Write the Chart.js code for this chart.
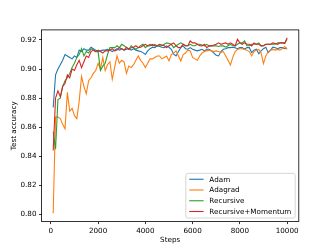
<!DOCTYPE html>
<html>
<head>
<meta charset="utf-8">
<script src="https://cdn.jsdelivr.net/npm/chart.js@4/dist/chart.umd.min.js"></script>
<style>
html,body{margin:0;padding:0;background:#fff;}
#wrap{width:332px;height:249px;}
</style>
</head>
<body>
<div id="wrap"><canvas id="c" width="332" height="249"></canvas></div>
<script>
const steps = [100,200,300,400,500,600,700,800,900,1000,1100,1200,1300,1400,1500,1600,1700,1800,1900,2000,
2100,2200,2300,2400,2500,2600,2700,2800,2900,3000,3100,3200,3300,3400,3500,3600,3700,3800,3900,4000,
4100,4200,4300,4400,4500,4600,4700,4800,4900,5000,5100,5200,5300,5400,5500,5600,5700,5800,5900,6000,
6100,6200,6300,6400,6500,6600,6700,6800,6900,7000,7100,7200,7300,7400,7500,7600,7700,7800,7900,8000,
8100,8200,8300,8400,8500,8600,8700,8800,8900,9000,9100,9200,9300,9400,9500,9600,9700,9800,9900,10000];

const adam = [0.8736,0.896,0.900,0.903,0.906,0.910,0.909,0.908,0.907,0.909,
0.908,0.913,0.912,0.914,0.913,0.913,0.915,0.914,0.913,0.912,
0.9125,0.913,0.913,0.9136,0.913,0.912,0.913,0.914,0.913,0.914,
0.913,0.9136,0.914,0.913,0.914,0.913,0.9125,0.912,0.9113,0.910,
0.9125,0.914,0.915,0.9147,0.916,0.9155,0.915,0.9147,0.9159,0.915,
0.9136,0.9102,0.909,0.912,0.9147,0.9159,0.914,0.9136,0.9147,0.9136,
0.913,0.9125,0.913,0.9136,0.9125,0.9136,0.9136,0.9125,0.911,0.9095,
0.909,0.912,0.9136,0.914,0.9147,0.9147,0.915,0.9147,0.914,0.9147,
0.9147,0.9136,0.9147,0.9147,0.9113,0.913,0.9136,0.9105,0.9125,0.914,
0.915,0.9113,0.913,0.915,0.9147,0.914,0.9147,0.9147,0.914,0.9145];

const adagrad = [0.801,0.867,0.867,0.866,0.862,0.859,0.884,0.871,0.873,0.868,
0.866,0.878,0.895,0.888,0.883,0.892,0.894,0.897,0.899,0.904,
0.900,0.908,0.899,0.903,0.905,0.893,0.901,0.909,0.904,0.906,
0.905,0.897,0.902,0.901,0.903,0.906,0.909,0.906,0.904,0.901,
0.904,0.907,0.907,0.908,0.909,0.909,0.907,0.908,0.909,0.9056,
0.910,0.911,0.9125,0.909,0.9055,0.910,0.911,0.913,0.9125,0.908,
0.907,0.906,0.909,0.911,0.912,0.9125,0.913,0.9125,0.912,0.9125,
0.912,0.9115,0.912,0.909,0.906,0.9028,0.908,0.912,0.9135,0.914,
0.914,0.9135,0.913,0.912,0.909,0.912,0.913,0.9135,0.911,0.9037,
0.909,0.912,0.913,0.9135,0.913,0.9135,0.913,0.914,0.9155,0.9135];

const recursive = [0.857,0.845,0.879,0.880,0.888,0.892,0.894,0.897,0.901,0.904,
0.908,0.910,0.914,0.909,0.912,0.911,0.914,0.913,0.912,0.912,
0.899,0.902,0.904,0.910,0.9147,0.9147,0.9147,0.916,0.9147,0.917,
0.916,0.9147,0.9136,0.916,0.9147,0.9136,0.9147,0.916,0.917,0.9147,
0.916,0.917,0.916,0.917,0.9159,0.9159,0.916,0.917,0.918,0.9175,
0.917,0.9147,0.916,0.917,0.918,0.917,0.916,0.916,0.917,0.916,
0.916,0.917,0.917,0.9165,0.9159,0.917,0.9159,0.916,0.9159,0.916,
0.9155,0.916,0.9159,0.915,0.916,0.917,0.916,0.9159,0.917,0.918,
0.918,0.9193,0.916,0.916,0.917,0.917,0.917,0.918,0.9159,0.916,
0.917,0.917,0.917,0.917,0.917,0.918,0.918,0.918,0.918,0.9205];

const recursiveMomentum = [0.844,0.880,0.885,0.881,0.888,0.890,0.896,0.894,0.900,0.899,
0.903,0.906,0.901,0.905,0.909,0.908,0.912,0.913,0.912,0.913,
0.912,0.911,0.9125,0.9125,0.913,0.914,0.9125,0.913,0.9147,0.914,
0.913,0.915,0.9136,0.9147,0.915,0.916,0.9147,0.915,0.916,0.917,
0.9159,0.916,0.917,0.9159,0.916,0.917,0.9165,0.916,0.9147,0.916,
0.917,0.918,0.916,0.9147,0.915,0.917,0.916,0.916,0.9193,0.918,
0.918,0.917,0.916,0.9159,0.917,0.9147,0.9159,0.9159,0.9165,0.917,
0.918,0.917,0.9175,0.918,0.917,0.918,0.917,0.9159,0.9205,0.918,
0.917,0.918,0.917,0.917,0.9159,0.918,0.917,0.917,0.9159,0.916,
0.917,0.917,0.917,0.918,0.9175,0.917,0.918,0.918,0.9175,0.9215];

const seriesLabels = ['Adam','Adagrad','Recursive','Recursive+Momentum'];
const seriesColors = ['#1f77b4','#ff7f0e','#2ca02c','#d62728'];
const xTicks = [0,2000,4000,6000,8000,10000];
const yTicks = [0.80,0.82,0.84,0.86,0.88,0.90,0.92];
const xTitle = 'Steps';
const yTitle = 'Test accuracy';

const FONT = {family: 'DejaVu Sans', size: 7.2};
const allSeries = [adam, adagrad, recursive, recursiveMomentum];

const datasets = allSeries.map((s, k) => ({
  label: seriesLabels[k],
  data: s.map((v, i) => ({x: steps[i], y: v})),
  borderColor: seriesColors[k],
  backgroundColor: seriesColors[k],
  borderWidth: 1.1,
  pointRadius: 0,
  tension: 0,
  fill: false,
  order: allSeries.length - k
}));

const framePlugin = {
  id: 'frame',
  afterDatasetsDraw(chart) {
    const {ctx, chartArea: a} = chart;
    ctx.save();
    ctx.strokeStyle = '#000';
    ctx.lineWidth = 0.8;
    ctx.strokeRect(a.left, a.top, a.right - a.left, a.bottom - a.top);
    ctx.restore();
  }
};

const legendPlugin = {
  id: 'mplLegend',
  afterDraw(chart) {
    const {ctx, chartArea: a} = chart;
    const fs = FONT.size;
    ctx.save();
    ctx.font = fs + 'px "DejaVu Sans"';
    const ds = chart.data.datasets;
    let tw = 0;
    ds.forEach(d => { tw = Math.max(tw, ctx.measureText(d.label).width); });
    const borderPad = 0.4 * fs, handleLen = 2.0 * fs, handlePad = 0.8 * fs;
    const rowH = 10.75, topPad = 5.9;
    const w = borderPad + handleLen + handlePad + tw + borderPad + 1.5;
    const h = topPad * 2 + rowH * (ds.length - 1) + 0.6;
    const right = a.right - 0.5 * fs;
    const bottom = a.bottom - 0.5 * fs;
    const left = right - w, top = bottom - h;
    const r = 2;
    ctx.beginPath();
    ctx.moveTo(left + r, top);
    ctx.lineTo(right - r, top);
    ctx.quadraticCurveTo(right, top, right, top + r);
    ctx.lineTo(right, bottom - r);
    ctx.quadraticCurveTo(right, bottom, right - r, bottom);
    ctx.lineTo(left + r, bottom);
    ctx.quadraticCurveTo(left, bottom, left, bottom - r);
    ctx.lineTo(left, top + r);
    ctx.quadraticCurveTo(left, top, left + r, top);
    ctx.closePath();
    ctx.fillStyle = 'rgba(255,255,255,0.8)';
    ctx.fill();
    ctx.strokeStyle = '#cccccc';
    ctx.lineWidth = 0.8;
    ctx.stroke();
    ds.forEach((d, k) => {
      const cy = top + topPad + k * rowH;
      ctx.strokeStyle = d.borderColor;
      ctx.lineWidth = 1.1;
      ctx.beginPath();
      ctx.moveTo(left + borderPad + 0.5, cy);
      ctx.lineTo(left + borderPad + 0.5 + handleLen, cy);
      ctx.stroke();
      ctx.fillStyle = '#000';
      ctx.textBaseline = 'middle';
      ctx.textAlign = 'left';
      ctx.fillText(d.label, left + borderPad + 0.5 + handleLen + handlePad, cy + 0.5);
    });
    ctx.restore();
  }
};

new Chart(document.getElementById('c'), {
  type: 'line',
  data: {datasets},
  options: {
    responsive: false,
    animation: false,
    devicePixelRatio: 1,
    layout: {padding: {left: 0, top: 29.9, right: 33.2, bottom: 0}},
    plugins: {legend: {display: false}, tooltip: {enabled: false}},
    scales: {
      x: {
        type: 'linear',
        min: -395,
        max: 10495,
        afterBuildTicks: axis => { axis.ticks = xTicks.map(v => ({value: v})); },
        afterFit: axis => { axis.height = 27.4; },
        ticks: {
          autoSkip: false,
          maxRotation: 0,
          padding: 2.5,
          color: '#000',
          font: FONT,
          callback: v => String(v)
        },
        grid: {drawOnChartArea: false, drawTicks: true, tickLength: 2.5, color: '#000', lineWidth: 0.8},
        border: {display: false},
        title: {display: true, text: xTitle, color: '#000', font: FONT, padding: {top: 0, bottom: 4.7}}
      },
      y: {
        type: 'linear',
        min: 0.7952,
        max: 0.9269,
        afterBuildTicks: axis => { axis.ticks = yTicks.map(v => ({value: v})); },
        afterFit: axis => { axis.width = 41.5; },
        ticks: {
          autoSkip: false,
          padding: 2.5,
          color: '#000',
          font: FONT,
          callback: v => Number(v).toFixed(2)
        },
        grid: {drawOnChartArea: false, drawTicks: true, tickLength: 2.5, color: '#000', lineWidth: 0.8},
        border: {display: false},
        title: {display: true, text: yTitle, color: '#000', font: FONT, padding: {top: 9.7, bottom: 0}}
      }
    }
  },
  plugins: [framePlugin, legendPlugin]
});
</script>
</body>
</html>
